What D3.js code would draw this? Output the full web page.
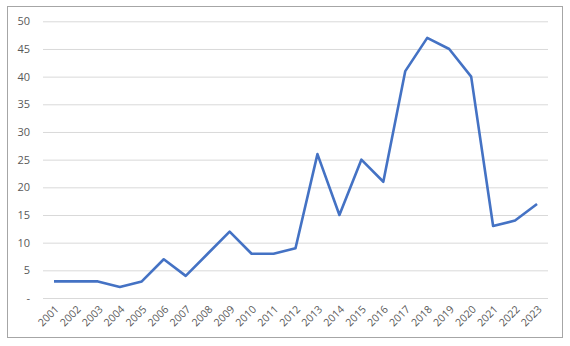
<!DOCTYPE html>
<html>
<head>
<meta charset="utf-8">
<script src="https://cdn.jsdelivr.net/npm/d3@7"></script>
<style>
  body { margin: 0; background: #fff; }
  text { font-family: "Open Sans", "Liberation Sans", sans-serif; fill: #595959; }
</style>
</head>
<body>
<div id="chart"></div>
<script>
const years = ["2001","2002","2003","2004","2005","2006","2007","2008","2009","2010","2011","2012",
  "2013","2014","2015","2016","2017","2018","2019","2020","2021","2022","2023"];
const counts = [3, 3, 3, 2, 3, 7, 4, 8, 12, 8, 8, 9, 26, 15, 25, 21, 41, 47, 45, 40, 13, 14, 17];
const yTicks = [0, 5, 10, 15, 20, 25, 30, 35, 40, 45, 50];

const width = 570, height = 346;
const plot = { left: 43, right: 548, top: 21.3, bottom: 298 };

const svg = d3.select("#chart").append("svg")
  .attr("width", width)
  .attr("height", height);

// Chart border
svg.append("rect")
  .attr("x", 7.5).attr("y", 6.5)
  .attr("width", 555).attr("height", 331)
  .attr("fill", "none")
  .attr("stroke", "#a6a6a6");

const x = d3.scalePoint()
  .domain(years)
  .range([plot.left, plot.right])
  .padding(0.5);

const y = d3.scaleLinear()
  .domain([0, 50])
  .range([plot.bottom, plot.top]);

// Gridlines + y labels
const yAxis = svg.append("g")
  .attr("transform", "translate(" + plot.left + ",0)")
  .call(d3.axisLeft(y)
    .tickValues(yTicks)
    .tickSize(-(plot.right - plot.left))
    .tickPadding(13)
    .tickFormat(d => d === 0 ? "-" : d));
yAxis.select(".domain").remove();
yAxis.selectAll(".tick line").attr("stroke", "#d9d9d9");
yAxis.selectAll(".tick text")
  .style("font-size", "11px")
  .attr("fill", "#595959");

// x labels
const xAxis = svg.append("g")
  .attr("transform", "translate(0," + plot.bottom + ")")
  .call(d3.axisBottom(x).tickSize(0).tickPadding(0));
xAxis.select(".domain").remove();
xAxis.selectAll(".tick text")
  .style("font-size", "10.5px")
  .attr("fill", "#595959")
  .attr("text-anchor", "end")
  .attr("dy", null)
  .attr("transform", "translate(5,12) rotate(-45)");

// Line
const line = d3.line()
  .x((d, i) => x(years[i]))
  .y(d => y(d));

svg.append("path")
  .datum(counts)
  .attr("d", line)
  .attr("fill", "none")
  .attr("stroke", "#4472c4")
  .attr("stroke-width", 2.6)
  .attr("stroke-linejoin", "round");
</script>
</body>
</html>
